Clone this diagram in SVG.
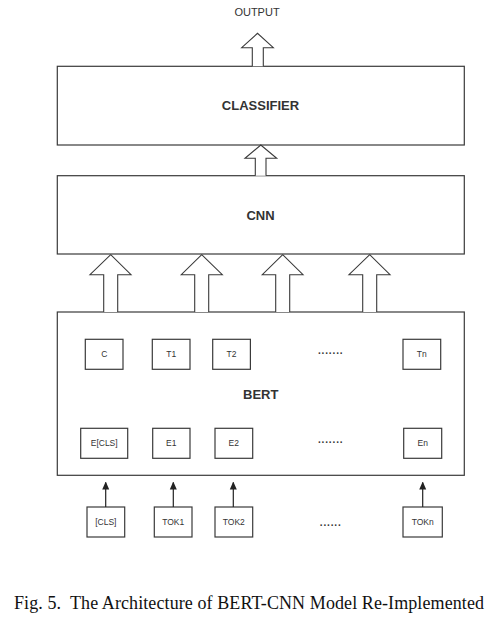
<svg xmlns="http://www.w3.org/2000/svg" width="485" height="621" viewBox="0 0 485 621">
<defs>
<style>
.box{fill:#fff;stroke:#3a3a3a;stroke-width:1.2}
.sm{fill:#fff;stroke:#3a3a3a;stroke-width:1.2}
.big{fill:#fff;stroke:#3a3a3a;stroke-width:1.1;stroke-linejoin:miter}
.lbl{font-family:"Liberation Sans",Arial,sans-serif;fill:#333;text-anchor:middle}
.t{font-size:8.5px}
.h{font-size:13px;font-weight:bold}
.ln{stroke:#222;stroke-width:1.2;fill:none}
.dots{font-family:"Liberation Sans",Arial,sans-serif;font-size:10px;font-weight:bold;fill:#333;text-anchor:middle;letter-spacing:0.3px}
.cap{font-family:"Liberation Serif","Times New Roman",serif;font-size:18px;fill:#111}
</style>
<marker id="ah" viewBox="0 0 8 10" refX="7" refY="5" markerWidth="8" markerHeight="10" markerUnits="userSpaceOnUse" orient="auto">
<path d="M0,1.5 L8,5 L0,8.5 Z" fill="#222"/>
</marker>
</defs>
<rect width="485" height="621" fill="#fff"/>

<g id="output">
<text class="lbl" x="257" y="16" style="font-size:11px">OUTPUT</text>
</g>

<g id="classifier">
<rect class="box" x="57.3" y="66.3" width="407" height="78.7"/>
<text class="lbl h" x="260.5" y="110">CLASSIFIER</text>
</g>

<g id="cnn">
<rect class="box" x="57.3" y="175.7" width="407" height="78.3"/>
<text class="lbl h" x="260.5" y="219.5">CNN</text>
</g>

<g id="bert">
<rect class="box" x="57.3" y="312" width="407" height="163.3"/>
<text class="lbl h" x="260.7" y="398.5">BERT</text>
<g id="c"><rect class="sm" x="85.3" y="339.3" width="37.7" height="30"/><text class="lbl t" x="104.2" y="357.3">C</text></g>
<g id="t1"><rect class="sm" x="152.3" y="339.3" width="37.7" height="30"/><text class="lbl t" x="171.2" y="357.3">T1</text></g>
<g id="t2"><rect class="sm" x="212.7" y="339.3" width="37.7" height="30"/><text class="lbl t" x="231.5" y="357.3">T2</text></g>
<g id="tdots"><text class="dots" x="330.7" y="357">·······</text></g>
<g id="tn"><rect class="sm" x="403" y="339.3" width="37.7" height="30"/><text class="lbl t" x="421.8" y="357.3">Tn</text></g>
<g id="ecls"><rect class="sm" x="80.7" y="428.3" width="47" height="30"/><text class="lbl t" x="104.2" y="446.3">E[CLS]</text></g>
<g id="e1"><rect class="sm" x="152.7" y="428.3" width="37.3" height="30"/><text class="lbl t" x="171.3" y="446.3">E1</text></g>
<g id="e2"><rect class="sm" x="215" y="428.3" width="37.7" height="30"/><text class="lbl t" x="233.8" y="446.3">E2</text></g>
<g id="edots"><text class="dots" x="330.7" y="445.5">·······</text></g>
<g id="en"><rect class="sm" x="403.7" y="428.3" width="38" height="30"/><text class="lbl t" x="422.7" y="446.3">En</text></g>
</g>

<g id="tokens">
<g id="tokcls"><rect class="sm" x="87" y="507" width="37.7" height="30"/><text class="lbl t" x="105.8" y="525">[CLS]</text></g>
<g id="tok1"><rect class="sm" x="154.3" y="507" width="37.7" height="30"/><text class="lbl t" x="173.2" y="525">TOK1</text></g>
<g id="tok2"><rect class="sm" x="215" y="507" width="37.7" height="30"/><text class="lbl t" x="233.8" y="525">TOK2</text></g>
<g id="tokdots"><text class="dots" x="330.7" y="528.5">······</text></g>
<g id="tokn"><rect class="sm" x="403" y="507" width="39.3" height="30"/><text class="lbl t" x="422.7" y="525">TOKn</text></g>
</g>

<g id="connectors">
<path class="big" d="M252.3,66.3 V47.7 H241.7 L257.5,33.3 L273.3,47.7 H263.3 V66.3"/>
<path class="big" d="M255.3,175.7 V158.3 H245 L260.8,145 L276.7,158.3 H266 V175.7"/>
<path class="big" d="M103.7,312 V274.7 H90 L110.7,254.7 L131,274.7 H117.7 V312"/>
<path class="big" d="M194.7,312 V274.7 H181.3 L201.7,254.7 L222.3,274.7 H208.7 V312"/>
<path class="big" d="M275.7,312 V274.7 H262.3 L282.7,254.7 L303,274.7 H289.7 V312"/>
<path class="big" d="M362.7,312 V274.7 H349 L369.7,254.7 L390,274.7 H376.7 V312"/>
<line class="ln" x1="105.7" y1="507" x2="105.7" y2="482.5" marker-end="url(#ah)"/>
<line class="ln" x1="173.3" y1="507" x2="173.3" y2="482.5" marker-end="url(#ah)"/>
<line class="ln" x1="233.3" y1="507" x2="233.3" y2="482.5" marker-end="url(#ah)"/>
<line class="ln" x1="422.7" y1="507" x2="422.7" y2="482.5" marker-end="url(#ah)"/>
</g>

<g id="caption">
<text class="cap" x="14" y="609" textLength="470" lengthAdjust="spacing" xml:space="preserve">Fig. 5.  The Architecture of BERT-CNN Model Re-Implemented</text>
</g>
</svg>
